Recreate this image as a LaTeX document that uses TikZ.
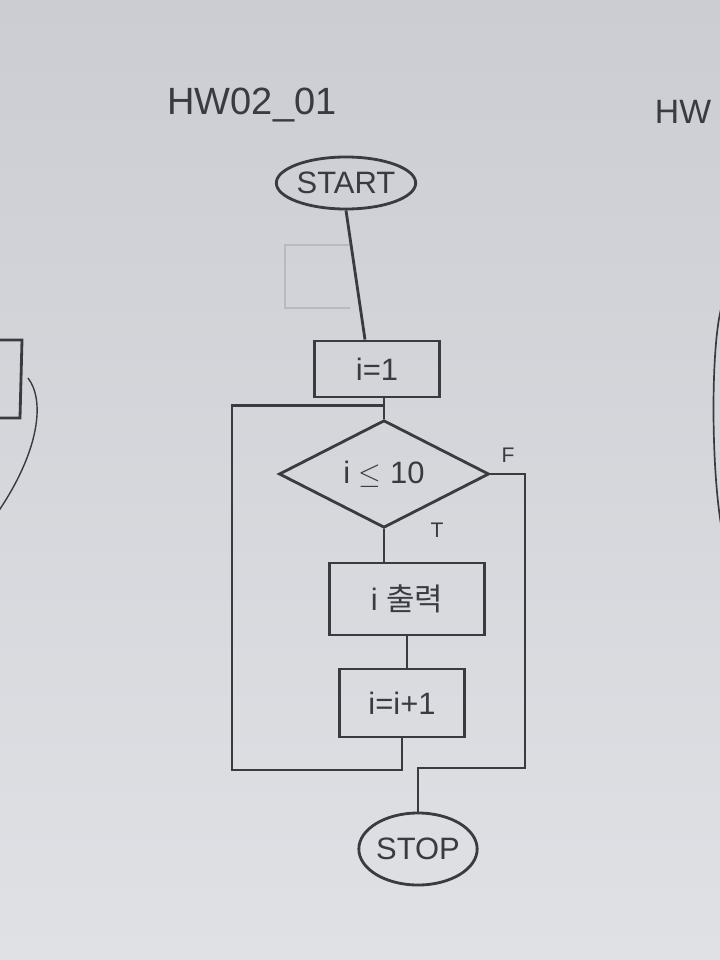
\documentclass[tikz,border=0pt]{standalone}
\usepackage{fontspec}
\setmainfont{Liberation Sans}
\newfontfamily\krfont{Noto Sans CJK KR}
\usetikzlibrary{shapes.geometric, calc}

\definecolor{paper}{RGB}{204,205,210}
\definecolor{paperlow}{RGB}{224,225,229}
\definecolor{pencil}{RGB}{58,58,64}
\definecolor{erased}{RGB}{185,186,191}

\tikzset{
  pen/.style={draw=pencil, line width=2pt},
  handtext/.style={text=pencil, font=\fontsize{22}{25}\selectfont},
  terminal/.style={pen, handtext, ellipse, inner sep=0pt},
  procbox/.style={pen, handtext, rectangle, inner sep=0pt},
  decision/.style={pen, handtext, diamond, inner sep=0pt},
  branchlabel/.style={text=pencil, font=\fontsize{15}{17}\selectfont},
}

\begin{document}
\begin{tikzpicture}[x=0.025cm, y=-0.025cm]
\shade[top color=paper, bottom color=paperlow] (0,0) rectangle (720,960);
\useasboundingbox (0,0) rectangle (720,960);
\clip (0,0) rectangle (720,960);

% neighbouring sheets, cut by the edge
\draw[pen] (-5,340) -- (22,340) -- (20,418) -- (-5,418);
\draw[pen, line width=1pt] (28,378) .. controls (45,400) and (40,450) .. (-2,512);
\draw[pen, line width=1.2pt] (724,300) .. controls (710,330) and (710,480) .. (724,540);
\node[anchor=west, handtext, font=\fontsize{24}{28}\selectfont] (nexttitle) at (650,112) {HW};
% erased box
\draw[erased, line width=1pt] (350,245) -- (285,245) -- (285,308) -- (350,308);

\node[handtext, font=\fontsize{27}{30}\selectfont] (title) at (252,105) {HW02\_01};

\node[terminal, minimum width=3.3cm, minimum height=1.3cm] (start) at (346,183) {START};
\node[procbox, minimum width=3.125cm, minimum height=1.4cm] (init) at (377,369) {i=1};
\node[decision, minimum width=5.25cm, minimum height=2.5cm] (cond) at (384,474) {i $\leq$ 10};
\node[procbox, minimum width=3.875cm, minimum height=1.8cm] (output) at (407,599) {i {\krfont 출력}};
\node[procbox, minimum width=3.125cm, minimum height=1.7cm] (incr) at (402,703) {i=i+1};
\node[terminal, minimum width=2.8cm, minimum height=1.8cm] (stop) at (418,849) {STOP};

\node[branchlabel] (flab) at (508,455) {F};
\node[branchlabel] (tlab) at (437,530) {T};

\coordinate (join) at ($(cond.north |- init.south)!0.35!(cond.north)$);
\coordinate (loopbot) at (232,770);
\coordinate (fright) at (525,768);

\draw[pen] (start.south) -- ([xshift=-0.3cm]init.north);
\draw[pen] (cond.north |- init.south) -- (cond.north);
\draw[pen] (cond.south) -- (cond.south |- output.north);
\draw[pen] (output.south) -- (output.south |- incr.north);
\draw[pen] (incr.south) |- (loopbot) |- (join);
\draw[pen] (cond.east) -| (fright) -| (stop.north);
\end{tikzpicture}
\end{document}
